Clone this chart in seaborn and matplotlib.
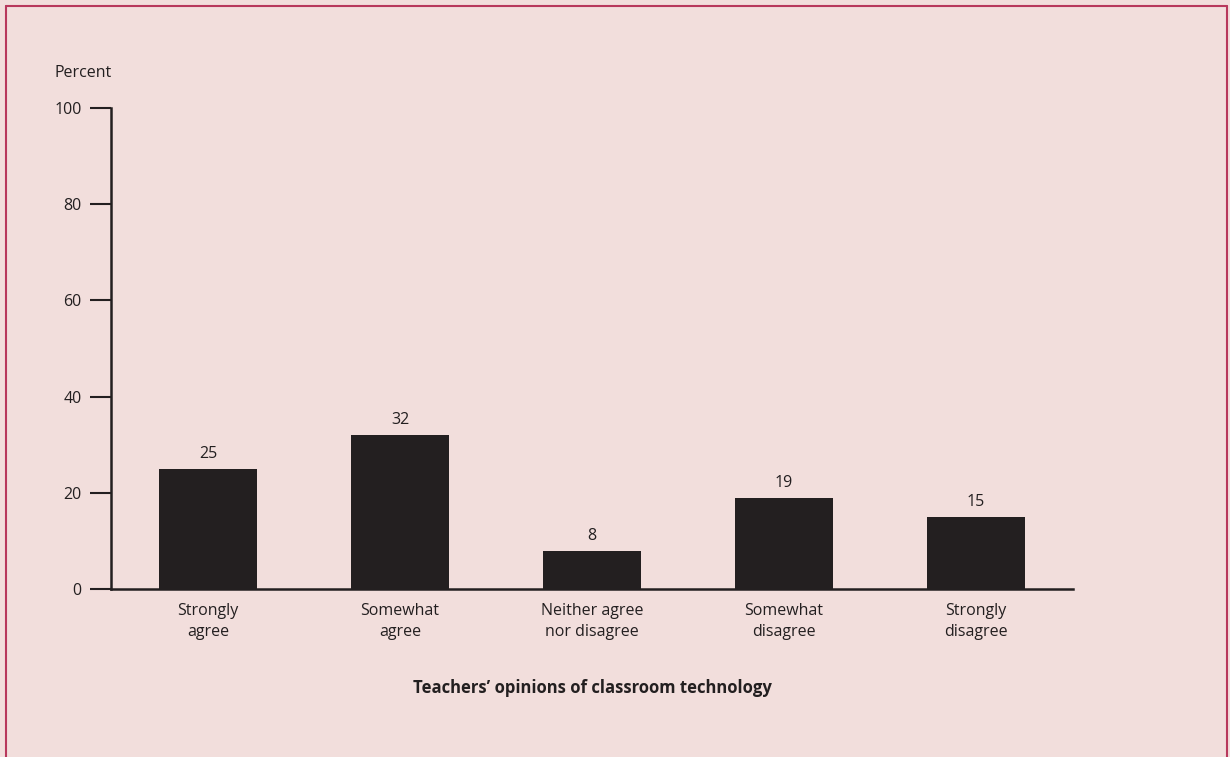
import numpy as np
import pandas as pd
import seaborn as sns
import matplotlib.pyplot as plt
from matplotlib.lines import Line2D

categories = ['Strongly\nagree', 'Somewhat\nagree', 'Neither agree\nnor disagree',
              'Somewhat\ndisagree', 'Strongly\ndisagree']
percent = [25, 32, 8, 19, 15]
yticks = [0, 20, 40, 60, 80, 100]

bg = '#f2dedc'
ink = '#231f20'
frame = '#b8385c'

sns.set_theme(style='white')
plt.rcParams['font.family'] = ['Open Sans', 'DejaVu Sans']

df = pd.DataFrame({'opinion': categories, 'percent': percent})

fig = plt.figure(figsize=(12.3, 7.57), dpi=100, facecolor=bg)
ax = fig.add_axes([111/1230, 168/757, (1073-111)/1230, (589-108)/757])
ax.set_facecolor(bg)

sns.barplot(data=df, x='opinion', y='percent', color=ink, width=0.51,
            saturation=1, edgecolor=ink, linewidth=0, ax=ax)
for c in ax.containers:
    ax.bar_label(c, padding=5, fontsize=11.5, color=ink)

ax.set_xlim(-0.505, 4.505)
ax.set_ylim(0, 100)
ax.set_yticks(yticks)
ax.set_xticks(range(len(categories)))
ax.set_xticklabels(categories, linespacing=1.45)
ax.tick_params(axis='y', length=15, width=1.5, color=ink, labelsize=11.5,
               labelcolor=ink, pad=6, left=True)
ax.tick_params(axis='x', length=0, labelsize=11.5, labelcolor=ink, pad=10)
for s in ['top', 'right']:
    ax.spines[s].set_visible(False)
for s in ['left', 'bottom']:
    ax.spines[s].set_color(ink)
    ax.spines[s].set_linewidth(1.8)
ax.set_ylabel('')
ax.set_xlabel("Teachers\u2019 opinions of classroom technology", fontsize=12,
              fontweight='bold', color=ink, labelpad=28)
fig.text(55/1230, 1 - 73/757, 'Percent', fontsize=11.5, color=ink, va='center')

# outer frame
fig.add_artist(Line2D([6/1230, 6/1230], [0, 1 - 6/757], color=frame, lw=1.5))
fig.add_artist(Line2D([6/1230, 1227/1230], [1 - 6/757, 1 - 6/757], color=frame, lw=1.5))
fig.add_artist(Line2D([1227/1230, 1227/1230], [0, 1 - 6/757], color=frame, lw=1.5))

fig.savefig('out.png', dpi=100, facecolor=bg)
